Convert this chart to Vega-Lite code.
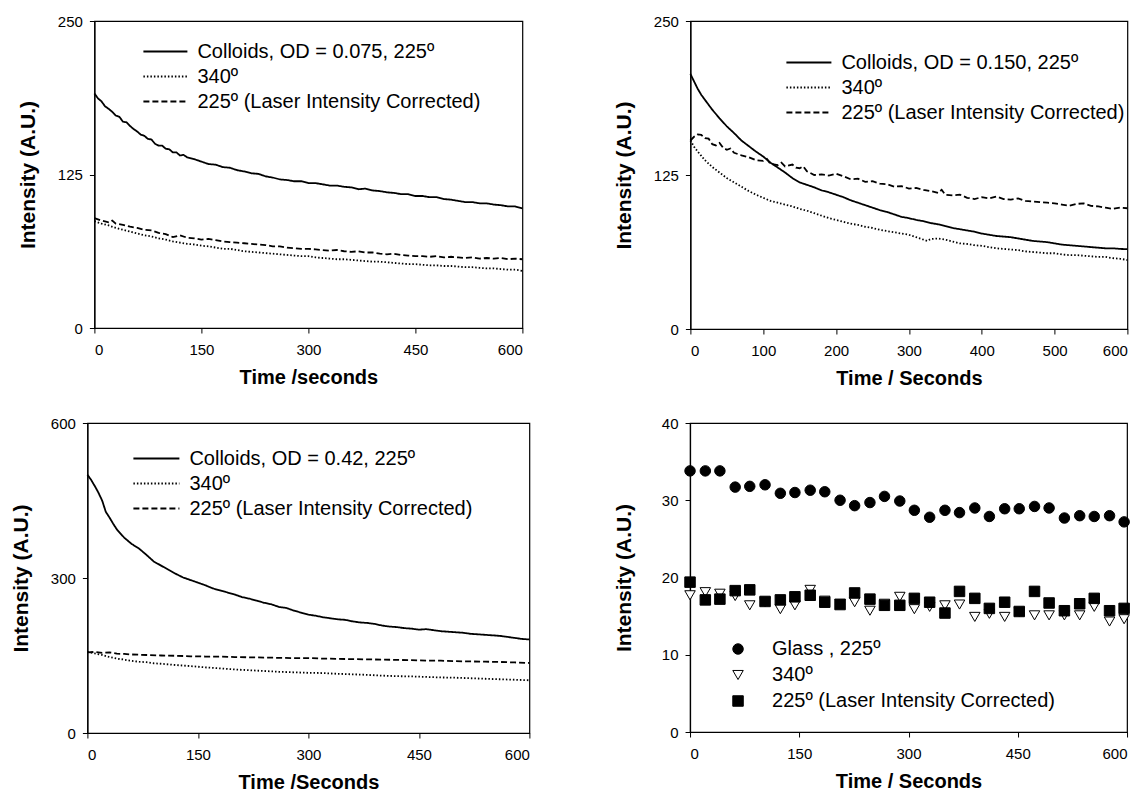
{
  "$schema": "https://vega.github.io/schema/vega-lite/v6.json",
  "background": "white",
  "padding": {"left": 9, "top": 13, "right": 5, "bottom": 5},
  "config": {
    "font": "Liberation Sans",
    "view": {"stroke": "black", "strokeWidth": 1.2},
    "axis": {
      "grid": false, "domainColor": "black", "domainWidth": 1.2, "tickColor": "black", "tickSize": 5,
      "labelColor": "black", "labelFont": "Liberation Sans", "labelFontSize": 15, "labelPadding": 7,
      "titleColor": "black", "titleFont": "Liberation Sans", "titleFontSize": 21, "titleFontWeight": "bold", "titlePadding": 12
    },
    "axisX": {"labelPadding": 9, "titlePadding": 10, "titleFontSize": 20},
    "axisY": {"titlePadding": 20, "minExtent": 36, "maxExtent": 36},
    "legend": {
      "orient": "none", "title": null, "padding": 0, "labelFont": "Liberation Sans", "labelFontSize": 20,
      "labelColor": "black", "rowPadding": 0, "labelLimit": 0
    },
    "line": {"color": "black", "strokeWidth": 1.8}
  },
  "datasets": {
    "p1": [
      {"s":"Colloids, OD = 0.075, 225º","t":0,"v":191},{"s":"Colloids, OD = 0.075, 225º","t":5,"v":187},{"s":"Colloids, OD = 0.075, 225º","t":10,"v":184.5},{"s":"Colloids, OD = 0.075, 225º","t":15,"v":180.5},{"s":"Colloids, OD = 0.075, 225º","t":20,"v":178.5},{"s":"Colloids, OD = 0.075, 225º","t":25,"v":176},{"s":"Colloids, OD = 0.075, 225º","t":30,"v":173},{"s":"Colloids, OD = 0.075, 225º","t":35,"v":172},{"s":"Colloids, OD = 0.075, 225º","t":40,"v":168},{"s":"Colloids, OD = 0.075, 225º","t":45,"v":167.5},{"s":"Colloids, OD = 0.075, 225º","t":50,"v":164.5},{"s":"Colloids, OD = 0.075, 225º","t":55,"v":162},{"s":"Colloids, OD = 0.075, 225º","t":60,"v":160},{"s":"Colloids, OD = 0.075, 225º","t":65,"v":157.5},{"s":"Colloids, OD = 0.075, 225º","t":70,"v":156.5},{"s":"Colloids, OD = 0.075, 225º","t":75,"v":154},{"s":"Colloids, OD = 0.075, 225º","t":80,"v":153.5},{"s":"Colloids, OD = 0.075, 225º","t":85,"v":150},{"s":"Colloids, OD = 0.075, 225º","t":90,"v":148.5},{"s":"Colloids, OD = 0.075, 225º","t":95,"v":148.5},{"s":"Colloids, OD = 0.075, 225º","t":100,"v":146},{"s":"Colloids, OD = 0.075, 225º","t":105,"v":145.5},{"s":"Colloids, OD = 0.075, 225º","t":110,"v":143},{"s":"Colloids, OD = 0.075, 225º","t":115,"v":143},{"s":"Colloids, OD = 0.075, 225º","t":120,"v":140.5},{"s":"Colloids, OD = 0.075, 225º","t":125,"v":141},{"s":"Colloids, OD = 0.075, 225º","t":130,"v":139},{"s":"Colloids, OD = 0.075, 225º","t":140,"v":137.5},{"s":"Colloids, OD = 0.075, 225º","t":150,"v":135.5},{"s":"Colloids, OD = 0.075, 225º","t":160,"v":133.5},{"s":"Colloids, OD = 0.075, 225º","t":170,"v":133},{"s":"Colloids, OD = 0.075, 225º","t":180,"v":131},{"s":"Colloids, OD = 0.075, 225º","t":190,"v":130.5},{"s":"Colloids, OD = 0.075, 225º","t":200,"v":128.5},{"s":"Colloids, OD = 0.075, 225º","t":210,"v":127.5},{"s":"Colloids, OD = 0.075, 225º","t":220,"v":126},{"s":"Colloids, OD = 0.075, 225º","t":230,"v":125.5},{"s":"Colloids, OD = 0.075, 225º","t":240,"v":123.5},{"s":"Colloids, OD = 0.075, 225º","t":250,"v":122.5},{"s":"Colloids, OD = 0.075, 225º","t":260,"v":121},{"s":"Colloids, OD = 0.075, 225º","t":270,"v":120.5},{"s":"Colloids, OD = 0.075, 225º","t":280,"v":119.5},{"s":"Colloids, OD = 0.075, 225º","t":290,"v":119.5},{"s":"Colloids, OD = 0.075, 225º","t":300,"v":118},{"s":"Colloids, OD = 0.075, 225º","t":310,"v":118},{"s":"Colloids, OD = 0.075, 225º","t":320,"v":117},{"s":"Colloids, OD = 0.075, 225º","t":330,"v":116},{"s":"Colloids, OD = 0.075, 225º","t":340,"v":116},{"s":"Colloids, OD = 0.075, 225º","t":350,"v":115},{"s":"Colloids, OD = 0.075, 225º","t":360,"v":114.5},{"s":"Colloids, OD = 0.075, 225º","t":370,"v":113},{"s":"Colloids, OD = 0.075, 225º","t":380,"v":113.5},{"s":"Colloids, OD = 0.075, 225º","t":390,"v":112},{"s":"Colloids, OD = 0.075, 225º","t":400,"v":111.5},{"s":"Colloids, OD = 0.075, 225º","t":410,"v":110.5},{"s":"Colloids, OD = 0.075, 225º","t":420,"v":110},{"s":"Colloids, OD = 0.075, 225º","t":430,"v":109},{"s":"Colloids, OD = 0.075, 225º","t":440,"v":109},{"s":"Colloids, OD = 0.075, 225º","t":450,"v":107.5},{"s":"Colloids, OD = 0.075, 225º","t":460,"v":107.5},{"s":"Colloids, OD = 0.075, 225º","t":470,"v":106.5},{"s":"Colloids, OD = 0.075, 225º","t":480,"v":106.5},{"s":"Colloids, OD = 0.075, 225º","t":490,"v":105},{"s":"Colloids, OD = 0.075, 225º","t":500,"v":104.5},{"s":"Colloids, OD = 0.075, 225º","t":510,"v":103.5},{"s":"Colloids, OD = 0.075, 225º","t":520,"v":102.5},{"s":"Colloids, OD = 0.075, 225º","t":530,"v":102.5},{"s":"Colloids, OD = 0.075, 225º","t":540,"v":101.5},{"s":"Colloids, OD = 0.075, 225º","t":550,"v":101.5},{"s":"Colloids, OD = 0.075, 225º","t":560,"v":100.5},{"s":"Colloids, OD = 0.075, 225º","t":570,"v":100},{"s":"Colloids, OD = 0.075, 225º","t":580,"v":99},{"s":"Colloids, OD = 0.075, 225º","t":590,"v":99},{"s":"Colloids, OD = 0.075, 225º","t":600,"v":97.5},
      {"s":"340º","t":0,"v":87},{"s":"340º","t":10,"v":85},{"s":"340º","t":20,"v":83.5},{"s":"340º","t":30,"v":81.5},{"s":"340º","t":40,"v":80},{"s":"340º","t":50,"v":78.5},{"s":"340º","t":60,"v":77},{"s":"340º","t":70,"v":75.5},{"s":"340º","t":80,"v":74.5},{"s":"340º","t":90,"v":73},{"s":"340º","t":100,"v":72},{"s":"340º","t":110,"v":70.5},{"s":"340º","t":120,"v":69.5},{"s":"340º","t":130,"v":68.5},{"s":"340º","t":140,"v":68},{"s":"340º","t":150,"v":67},{"s":"340º","t":160,"v":66.5},{"s":"340º","t":170,"v":65.5},{"s":"340º","t":180,"v":64.5},{"s":"340º","t":190,"v":64.5},{"s":"340º","t":200,"v":63.5},{"s":"340º","t":210,"v":62.5},{"s":"340º","t":220,"v":62},{"s":"340º","t":230,"v":61.5},{"s":"340º","t":240,"v":61},{"s":"340º","t":250,"v":60.5},{"s":"340º","t":260,"v":60},{"s":"340º","t":270,"v":59.5},{"s":"340º","t":280,"v":59},{"s":"340º","t":290,"v":58.5},{"s":"340º","t":300,"v":58.5},{"s":"340º","t":310,"v":57.5},{"s":"340º","t":320,"v":57},{"s":"340º","t":330,"v":56.5},{"s":"340º","t":340,"v":56},{"s":"340º","t":350,"v":56},{"s":"340º","t":360,"v":55.5},{"s":"340º","t":370,"v":55},{"s":"340º","t":380,"v":54.5},{"s":"340º","t":390,"v":54},{"s":"340º","t":400,"v":54},{"s":"340º","t":410,"v":53.5},{"s":"340º","t":420,"v":53},{"s":"340º","t":430,"v":52.5},{"s":"340º","t":440,"v":52},{"s":"340º","t":450,"v":52},{"s":"340º","t":460,"v":51.5},{"s":"340º","t":470,"v":51},{"s":"340º","t":480,"v":51},{"s":"340º","t":490,"v":50.5},{"s":"340º","t":500,"v":50.5},{"s":"340º","t":510,"v":50},{"s":"340º","t":520,"v":49.5},{"s":"340º","t":530,"v":49.5},{"s":"340º","t":540,"v":49},{"s":"340º","t":550,"v":48.5},{"s":"340º","t":560,"v":48.5},{"s":"340º","t":570,"v":48},{"s":"340º","t":580,"v":47.5},{"s":"340º","t":590,"v":47.5},{"s":"340º","t":600,"v":46.5},
      {"s":"225º (Laser Intensity Corrected)","t":0,"v":89.5},{"s":"225º (Laser Intensity Corrected)","t":10,"v":87.5},{"s":"225º (Laser Intensity Corrected)","t":20,"v":86},{"s":"225º (Laser Intensity Corrected)","t":25,"v":87.5},{"s":"225º (Laser Intensity Corrected)","t":30,"v":85},{"s":"225º (Laser Intensity Corrected)","t":40,"v":84},{"s":"225º (Laser Intensity Corrected)","t":50,"v":82.5},{"s":"225º (Laser Intensity Corrected)","t":60,"v":81.5},{"s":"225º (Laser Intensity Corrected)","t":70,"v":80},{"s":"225º (Laser Intensity Corrected)","t":80,"v":79.5},{"s":"225º (Laser Intensity Corrected)","t":90,"v":77.5},{"s":"225º (Laser Intensity Corrected)","t":100,"v":76.5},{"s":"225º (Laser Intensity Corrected)","t":110,"v":74},{"s":"225º (Laser Intensity Corrected)","t":120,"v":75.5},{"s":"225º (Laser Intensity Corrected)","t":130,"v":73.5},{"s":"225º (Laser Intensity Corrected)","t":140,"v":73},{"s":"225º (Laser Intensity Corrected)","t":150,"v":72},{"s":"225º (Laser Intensity Corrected)","t":160,"v":72.5},{"s":"225º (Laser Intensity Corrected)","t":170,"v":71.5},{"s":"225º (Laser Intensity Corrected)","t":180,"v":70.5},{"s":"225º (Laser Intensity Corrected)","t":190,"v":70},{"s":"225º (Laser Intensity Corrected)","t":200,"v":69.5},{"s":"225º (Laser Intensity Corrected)","t":210,"v":69},{"s":"225º (Laser Intensity Corrected)","t":220,"v":68.5},{"s":"225º (Laser Intensity Corrected)","t":230,"v":68},{"s":"225º (Laser Intensity Corrected)","t":240,"v":67.5},{"s":"225º (Laser Intensity Corrected)","t":250,"v":66.5},{"s":"225º (Laser Intensity Corrected)","t":260,"v":66.5},{"s":"225º (Laser Intensity Corrected)","t":270,"v":65.5},{"s":"225º (Laser Intensity Corrected)","t":280,"v":65},{"s":"225º (Laser Intensity Corrected)","t":290,"v":64.5},{"s":"225º (Laser Intensity Corrected)","t":300,"v":64.5},{"s":"225º (Laser Intensity Corrected)","t":310,"v":64},{"s":"225º (Laser Intensity Corrected)","t":320,"v":63.5},{"s":"225º (Laser Intensity Corrected)","t":330,"v":63},{"s":"225º (Laser Intensity Corrected)","t":340,"v":63.5},{"s":"225º (Laser Intensity Corrected)","t":350,"v":62.5},{"s":"225º (Laser Intensity Corrected)","t":360,"v":62},{"s":"225º (Laser Intensity Corrected)","t":370,"v":62.5},{"s":"225º (Laser Intensity Corrected)","t":380,"v":61.5},{"s":"225º (Laser Intensity Corrected)","t":390,"v":61.5},{"s":"225º (Laser Intensity Corrected)","t":400,"v":60.5},{"s":"225º (Laser Intensity Corrected)","t":410,"v":60},{"s":"225º (Laser Intensity Corrected)","t":420,"v":60.5},{"s":"225º (Laser Intensity Corrected)","t":430,"v":59.5},{"s":"225º (Laser Intensity Corrected)","t":440,"v":59},{"s":"225º (Laser Intensity Corrected)","t":450,"v":58.5},{"s":"225º (Laser Intensity Corrected)","t":460,"v":58.5},{"s":"225º (Laser Intensity Corrected)","t":470,"v":58},{"s":"225º (Laser Intensity Corrected)","t":480,"v":58.5},{"s":"225º (Laser Intensity Corrected)","t":490,"v":57.5},{"s":"225º (Laser Intensity Corrected)","t":500,"v":58},{"s":"225º (Laser Intensity Corrected)","t":510,"v":57.5},{"s":"225º (Laser Intensity Corrected)","t":520,"v":57},{"s":"225º (Laser Intensity Corrected)","t":530,"v":57.5},{"s":"225º (Laser Intensity Corrected)","t":540,"v":56.5},{"s":"225º (Laser Intensity Corrected)","t":550,"v":57},{"s":"225º (Laser Intensity Corrected)","t":560,"v":56.5},{"s":"225º (Laser Intensity Corrected)","t":570,"v":57},{"s":"225º (Laser Intensity Corrected)","t":580,"v":56},{"s":"225º (Laser Intensity Corrected)","t":590,"v":56.5},{"s":"225º (Laser Intensity Corrected)","t":600,"v":56}
    ],
    "p2": [
      {"s":"Colloids, OD = 0.150, 225º","t":0,"v":207},{"s":"Colloids, OD = 0.150, 225º","t":5,"v":201},{"s":"Colloids, OD = 0.150, 225º","t":10,"v":195},{"s":"Colloids, OD = 0.150, 225º","t":15,"v":190},{"s":"Colloids, OD = 0.150, 225º","t":20,"v":186},{"s":"Colloids, OD = 0.150, 225º","t":25,"v":182},{"s":"Colloids, OD = 0.150, 225º","t":30,"v":178},{"s":"Colloids, OD = 0.150, 225º","t":40,"v":171},{"s":"Colloids, OD = 0.150, 225º","t":50,"v":164.5},{"s":"Colloids, OD = 0.150, 225º","t":60,"v":159},{"s":"Colloids, OD = 0.150, 225º","t":70,"v":153},{"s":"Colloids, OD = 0.150, 225º","t":80,"v":148.5},{"s":"Colloids, OD = 0.150, 225º","t":90,"v":144},{"s":"Colloids, OD = 0.150, 225º","t":100,"v":140},{"s":"Colloids, OD = 0.150, 225º","t":110,"v":135},{"s":"Colloids, OD = 0.150, 225º","t":120,"v":131},{"s":"Colloids, OD = 0.150, 225º","t":130,"v":127},{"s":"Colloids, OD = 0.150, 225º","t":140,"v":122.5},{"s":"Colloids, OD = 0.150, 225º","t":150,"v":119},{"s":"Colloids, OD = 0.150, 225º","t":160,"v":117},{"s":"Colloids, OD = 0.150, 225º","t":170,"v":115},{"s":"Colloids, OD = 0.150, 225º","t":180,"v":112.5},{"s":"Colloids, OD = 0.150, 225º","t":190,"v":111},{"s":"Colloids, OD = 0.150, 225º","t":200,"v":109},{"s":"Colloids, OD = 0.150, 225º","t":210,"v":107},{"s":"Colloids, OD = 0.150, 225º","t":220,"v":104.5},{"s":"Colloids, OD = 0.150, 225º","t":230,"v":102.5},{"s":"Colloids, OD = 0.150, 225º","t":240,"v":100.5},{"s":"Colloids, OD = 0.150, 225º","t":250,"v":98.5},{"s":"Colloids, OD = 0.150, 225º","t":260,"v":96.5},{"s":"Colloids, OD = 0.150, 225º","t":270,"v":95},{"s":"Colloids, OD = 0.150, 225º","t":280,"v":93},{"s":"Colloids, OD = 0.150, 225º","t":290,"v":91},{"s":"Colloids, OD = 0.150, 225º","t":300,"v":90},{"s":"Colloids, OD = 0.150, 225º","t":310,"v":88.5},{"s":"Colloids, OD = 0.150, 225º","t":320,"v":87.5},{"s":"Colloids, OD = 0.150, 225º","t":330,"v":86},{"s":"Colloids, OD = 0.150, 225º","t":340,"v":85},{"s":"Colloids, OD = 0.150, 225º","t":350,"v":83.5},{"s":"Colloids, OD = 0.150, 225º","t":360,"v":82},{"s":"Colloids, OD = 0.150, 225º","t":370,"v":81},{"s":"Colloids, OD = 0.150, 225º","t":380,"v":80},{"s":"Colloids, OD = 0.150, 225º","t":390,"v":79},{"s":"Colloids, OD = 0.150, 225º","t":400,"v":77.5},{"s":"Colloids, OD = 0.150, 225º","t":410,"v":76.5},{"s":"Colloids, OD = 0.150, 225º","t":420,"v":75.5},{"s":"Colloids, OD = 0.150, 225º","t":430,"v":75},{"s":"Colloids, OD = 0.150, 225º","t":440,"v":74.5},{"s":"Colloids, OD = 0.150, 225º","t":450,"v":73.5},{"s":"Colloids, OD = 0.150, 225º","t":460,"v":72.5},{"s":"Colloids, OD = 0.150, 225º","t":470,"v":71.5},{"s":"Colloids, OD = 0.150, 225º","t":480,"v":71},{"s":"Colloids, OD = 0.150, 225º","t":490,"v":70.5},{"s":"Colloids, OD = 0.150, 225º","t":500,"v":69.5},{"s":"Colloids, OD = 0.150, 225º","t":510,"v":68.5},{"s":"Colloids, OD = 0.150, 225º","t":520,"v":68},{"s":"Colloids, OD = 0.150, 225º","t":530,"v":67.5},{"s":"Colloids, OD = 0.150, 225º","t":540,"v":67},{"s":"Colloids, OD = 0.150, 225º","t":550,"v":66.5},{"s":"Colloids, OD = 0.150, 225º","t":560,"v":66},{"s":"Colloids, OD = 0.150, 225º","t":570,"v":65.5},{"s":"Colloids, OD = 0.150, 225º","t":580,"v":65.5},{"s":"Colloids, OD = 0.150, 225º","t":590,"v":65},{"s":"Colloids, OD = 0.150, 225º","t":600,"v":64.8},
      {"s":"340º","t":0,"v":153},{"s":"340º","t":5,"v":148},{"s":"340º","t":10,"v":144},{"s":"340º","t":15,"v":140.5},{"s":"340º","t":20,"v":137},{"s":"340º","t":30,"v":131.5},{"s":"340º","t":40,"v":127},{"s":"340º","t":50,"v":122.5},{"s":"340º","t":60,"v":119},{"s":"340º","t":70,"v":115.5},{"s":"340º","t":80,"v":112},{"s":"340º","t":90,"v":109},{"s":"340º","t":100,"v":106.5},{"s":"340º","t":110,"v":104},{"s":"340º","t":120,"v":102.5},{"s":"340º","t":130,"v":101},{"s":"340º","t":140,"v":99.5},{"s":"340º","t":150,"v":97.5},{"s":"340º","t":160,"v":96},{"s":"340º","t":170,"v":94},{"s":"340º","t":180,"v":92},{"s":"340º","t":190,"v":90},{"s":"340º","t":200,"v":88.5},{"s":"340º","t":210,"v":87},{"s":"340º","t":220,"v":85.5},{"s":"340º","t":230,"v":84.5},{"s":"340º","t":240,"v":83},{"s":"340º","t":250,"v":82},{"s":"340º","t":260,"v":80.5},{"s":"340º","t":270,"v":79.5},{"s":"340º","t":280,"v":78.5},{"s":"340º","t":290,"v":77.5},{"s":"340º","t":300,"v":76.5},{"s":"340º","t":310,"v":74.5},{"s":"340º","t":320,"v":72.5},{"s":"340º","t":325,"v":71.5},{"s":"340º","t":330,"v":73},{"s":"340º","t":340,"v":73.5},{"s":"340º","t":350,"v":72.5},{"s":"340º","t":360,"v":71},{"s":"340º","t":370,"v":69.5},{"s":"340º","t":380,"v":69},{"s":"340º","t":390,"v":68},{"s":"340º","t":400,"v":67.5},{"s":"340º","t":410,"v":66.5},{"s":"340º","t":420,"v":65.5},{"s":"340º","t":430,"v":65},{"s":"340º","t":440,"v":64.5},{"s":"340º","t":450,"v":64},{"s":"340º","t":460,"v":63},{"s":"340º","t":470,"v":62.5},{"s":"340º","t":480,"v":62},{"s":"340º","t":490,"v":61.5},{"s":"340º","t":500,"v":61.5},{"s":"340º","t":510,"v":60.5},{"s":"340º","t":520,"v":60},{"s":"340º","t":530,"v":60},{"s":"340º","t":540,"v":59.5},{"s":"340º","t":550,"v":59},{"s":"340º","t":560,"v":58.5},{"s":"340º","t":570,"v":58.5},{"s":"340º","t":580,"v":57.5},{"s":"340º","t":590,"v":57},{"s":"340º","t":600,"v":56},
      {"s":"225º (Laser Intensity Corrected)","t":0,"v":153},{"s":"225º (Laser Intensity Corrected)","t":5,"v":156},{"s":"225º (Laser Intensity Corrected)","t":10,"v":158},{"s":"225º (Laser Intensity Corrected)","t":15,"v":157.5},{"s":"225º (Laser Intensity Corrected)","t":20,"v":155},{"s":"225º (Laser Intensity Corrected)","t":25,"v":154.5},{"s":"225º (Laser Intensity Corrected)","t":30,"v":150},{"s":"225º (Laser Intensity Corrected)","t":35,"v":149},{"s":"225º (Laser Intensity Corrected)","t":40,"v":151},{"s":"225º (Laser Intensity Corrected)","t":45,"v":147},{"s":"225º (Laser Intensity Corrected)","t":50,"v":145.5},{"s":"225º (Laser Intensity Corrected)","t":55,"v":146.5},{"s":"225º (Laser Intensity Corrected)","t":60,"v":143},{"s":"225º (Laser Intensity Corrected)","t":70,"v":141},{"s":"225º (Laser Intensity Corrected)","t":80,"v":139.5},{"s":"225º (Laser Intensity Corrected)","t":90,"v":137},{"s":"225º (Laser Intensity Corrected)","t":100,"v":136.5},{"s":"225º (Laser Intensity Corrected)","t":105,"v":138},{"s":"225º (Laser Intensity Corrected)","t":110,"v":134},{"s":"225º (Laser Intensity Corrected)","t":120,"v":133},{"s":"225º (Laser Intensity Corrected)","t":125,"v":135},{"s":"225º (Laser Intensity Corrected)","t":130,"v":132},{"s":"225º (Laser Intensity Corrected)","t":140,"v":133.5},{"s":"225º (Laser Intensity Corrected)","t":145,"v":131},{"s":"225º (Laser Intensity Corrected)","t":150,"v":130.5},{"s":"225º (Laser Intensity Corrected)","t":155,"v":132},{"s":"225º (Laser Intensity Corrected)","t":160,"v":128},{"s":"225º (Laser Intensity Corrected)","t":170,"v":125},{"s":"225º (Laser Intensity Corrected)","t":180,"v":125.5},{"s":"225º (Laser Intensity Corrected)","t":190,"v":124.5},{"s":"225º (Laser Intensity Corrected)","t":200,"v":126},{"s":"225º (Laser Intensity Corrected)","t":210,"v":124},{"s":"225º (Laser Intensity Corrected)","t":220,"v":121.5},{"s":"225º (Laser Intensity Corrected)","t":230,"v":122},{"s":"225º (Laser Intensity Corrected)","t":240,"v":119.5},{"s":"225º (Laser Intensity Corrected)","t":250,"v":120},{"s":"225º (Laser Intensity Corrected)","t":260,"v":118},{"s":"225º (Laser Intensity Corrected)","t":270,"v":117.5},{"s":"225º (Laser Intensity Corrected)","t":280,"v":115.5},{"s":"225º (Laser Intensity Corrected)","t":290,"v":116},{"s":"225º (Laser Intensity Corrected)","t":300,"v":114},{"s":"225º (Laser Intensity Corrected)","t":310,"v":114.5},{"s":"225º (Laser Intensity Corrected)","t":320,"v":113},{"s":"225º (Laser Intensity Corrected)","t":330,"v":112},{"s":"225º (Laser Intensity Corrected)","t":340,"v":110.5},{"s":"225º (Laser Intensity Corrected)","t":345,"v":113},{"s":"225º (Laser Intensity Corrected)","t":350,"v":109},{"s":"225º (Laser Intensity Corrected)","t":360,"v":108.5},{"s":"225º (Laser Intensity Corrected)","t":370,"v":109},{"s":"225º (Laser Intensity Corrected)","t":380,"v":106.5},{"s":"225º (Laser Intensity Corrected)","t":390,"v":105.5},{"s":"225º (Laser Intensity Corrected)","t":400,"v":107},{"s":"225º (Laser Intensity Corrected)","t":410,"v":106},{"s":"225º (Laser Intensity Corrected)","t":420,"v":107.5},{"s":"225º (Laser Intensity Corrected)","t":430,"v":105.5},{"s":"225º (Laser Intensity Corrected)","t":440,"v":105},{"s":"225º (Laser Intensity Corrected)","t":450,"v":106},{"s":"225º (Laser Intensity Corrected)","t":460,"v":104},{"s":"225º (Laser Intensity Corrected)","t":470,"v":103.5},{"s":"225º (Laser Intensity Corrected)","t":480,"v":103},{"s":"225º (Laser Intensity Corrected)","t":490,"v":102.5},{"s":"225º (Laser Intensity Corrected)","t":500,"v":102},{"s":"225º (Laser Intensity Corrected)","t":510,"v":101},{"s":"225º (Laser Intensity Corrected)","t":520,"v":100},{"s":"225º (Laser Intensity Corrected)","t":530,"v":101.5},{"s":"225º (Laser Intensity Corrected)","t":540,"v":102},{"s":"225º (Laser Intensity Corrected)","t":550,"v":100},{"s":"225º (Laser Intensity Corrected)","t":560,"v":99.5},{"s":"225º (Laser Intensity Corrected)","t":570,"v":98.5},{"s":"225º (Laser Intensity Corrected)","t":580,"v":97.5},{"s":"225º (Laser Intensity Corrected)","t":590,"v":98.5},{"s":"225º (Laser Intensity Corrected)","t":600,"v":98}
    ],
    "p3": [
      {"s":"Colloids, OD = 0.42, 225º","t":0,"v":500},{"s":"Colloids, OD = 0.42, 225º","t":5,"v":490},{"s":"Colloids, OD = 0.42, 225º","t":10,"v":478},{"s":"Colloids, OD = 0.42, 225º","t":15,"v":465},{"s":"Colloids, OD = 0.42, 225º","t":20,"v":450},{"s":"Colloids, OD = 0.42, 225º","t":25,"v":428},{"s":"Colloids, OD = 0.42, 225º","t":30,"v":417},{"s":"Colloids, OD = 0.42, 225º","t":35,"v":405},{"s":"Colloids, OD = 0.42, 225º","t":40,"v":394},{"s":"Colloids, OD = 0.42, 225º","t":45,"v":386},{"s":"Colloids, OD = 0.42, 225º","t":50,"v":378},{"s":"Colloids, OD = 0.42, 225º","t":55,"v":372},{"s":"Colloids, OD = 0.42, 225º","t":60,"v":366},{"s":"Colloids, OD = 0.42, 225º","t":70,"v":357},{"s":"Colloids, OD = 0.42, 225º","t":80,"v":345},{"s":"Colloids, OD = 0.42, 225º","t":90,"v":332},{"s":"Colloids, OD = 0.42, 225º","t":100,"v":324},{"s":"Colloids, OD = 0.42, 225º","t":110,"v":316},{"s":"Colloids, OD = 0.42, 225º","t":120,"v":308},{"s":"Colloids, OD = 0.42, 225º","t":130,"v":301},{"s":"Colloids, OD = 0.42, 225º","t":140,"v":296},{"s":"Colloids, OD = 0.42, 225º","t":150,"v":291},{"s":"Colloids, OD = 0.42, 225º","t":160,"v":286},{"s":"Colloids, OD = 0.42, 225º","t":170,"v":280},{"s":"Colloids, OD = 0.42, 225º","t":180,"v":276},{"s":"Colloids, OD = 0.42, 225º","t":190,"v":272},{"s":"Colloids, OD = 0.42, 225º","t":200,"v":268},{"s":"Colloids, OD = 0.42, 225º","t":210,"v":263},{"s":"Colloids, OD = 0.42, 225º","t":220,"v":260},{"s":"Colloids, OD = 0.42, 225º","t":230,"v":256},{"s":"Colloids, OD = 0.42, 225º","t":240,"v":252},{"s":"Colloids, OD = 0.42, 225º","t":250,"v":249},{"s":"Colloids, OD = 0.42, 225º","t":260,"v":244},{"s":"Colloids, OD = 0.42, 225º","t":270,"v":242},{"s":"Colloids, OD = 0.42, 225º","t":280,"v":237},{"s":"Colloids, OD = 0.42, 225º","t":290,"v":233},{"s":"Colloids, OD = 0.42, 225º","t":300,"v":229},{"s":"Colloids, OD = 0.42, 225º","t":310,"v":227},{"s":"Colloids, OD = 0.42, 225º","t":320,"v":224},{"s":"Colloids, OD = 0.42, 225º","t":330,"v":222},{"s":"Colloids, OD = 0.42, 225º","t":340,"v":220},{"s":"Colloids, OD = 0.42, 225º","t":350,"v":219},{"s":"Colloids, OD = 0.42, 225º","t":360,"v":216},{"s":"Colloids, OD = 0.42, 225º","t":370,"v":214},{"s":"Colloids, OD = 0.42, 225º","t":380,"v":213},{"s":"Colloids, OD = 0.42, 225º","t":390,"v":211},{"s":"Colloids, OD = 0.42, 225º","t":400,"v":208},{"s":"Colloids, OD = 0.42, 225º","t":410,"v":206},{"s":"Colloids, OD = 0.42, 225º","t":420,"v":205},{"s":"Colloids, OD = 0.42, 225º","t":430,"v":203},{"s":"Colloids, OD = 0.42, 225º","t":440,"v":202},{"s":"Colloids, OD = 0.42, 225º","t":450,"v":200},{"s":"Colloids, OD = 0.42, 225º","t":460,"v":201},{"s":"Colloids, OD = 0.42, 225º","t":470,"v":199},{"s":"Colloids, OD = 0.42, 225º","t":480,"v":197},{"s":"Colloids, OD = 0.42, 225º","t":490,"v":196},{"s":"Colloids, OD = 0.42, 225º","t":500,"v":195},{"s":"Colloids, OD = 0.42, 225º","t":510,"v":194},{"s":"Colloids, OD = 0.42, 225º","t":520,"v":192},{"s":"Colloids, OD = 0.42, 225º","t":530,"v":191},{"s":"Colloids, OD = 0.42, 225º","t":540,"v":190},{"s":"Colloids, OD = 0.42, 225º","t":550,"v":189},{"s":"Colloids, OD = 0.42, 225º","t":560,"v":188},{"s":"Colloids, OD = 0.42, 225º","t":570,"v":186},{"s":"Colloids, OD = 0.42, 225º","t":580,"v":184},{"s":"Colloids, OD = 0.42, 225º","t":590,"v":182},{"s":"Colloids, OD = 0.42, 225º","t":600,"v":181},
      {"s":"340º","t":0,"v":157},{"s":"340º","t":10,"v":154},{"s":"340º","t":20,"v":151},{"s":"340º","t":30,"v":147},{"s":"340º","t":40,"v":144},{"s":"340º","t":50,"v":142},{"s":"340º","t":60,"v":139.5},{"s":"340º","t":70,"v":138},{"s":"340º","t":80,"v":137},{"s":"340º","t":90,"v":135},{"s":"340º","t":100,"v":134},{"s":"340º","t":120,"v":131.5},{"s":"340º","t":140,"v":129.5},{"s":"340º","t":160,"v":127},{"s":"340º","t":180,"v":125},{"s":"340º","t":200,"v":123},{"s":"340º","t":220,"v":121.5},{"s":"340º","t":240,"v":120},{"s":"340º","t":260,"v":118.5},{"s":"340º","t":280,"v":117.5},{"s":"340º","t":300,"v":116.5},{"s":"340º","t":320,"v":116},{"s":"340º","t":340,"v":114.5},{"s":"340º","t":360,"v":113.5},{"s":"340º","t":380,"v":112.5},{"s":"340º","t":400,"v":111},{"s":"340º","t":420,"v":110},{"s":"340º","t":440,"v":109.5},{"s":"340º","t":460,"v":108.5},{"s":"340º","t":480,"v":107.5},{"s":"340º","t":500,"v":107},{"s":"340º","t":520,"v":106},{"s":"340º","t":540,"v":105},{"s":"340º","t":560,"v":104},{"s":"340º","t":580,"v":103},{"s":"340º","t":600,"v":102},
      {"s":"225º (Laser Intensity Corrected)","t":0,"v":156},{"s":"225º (Laser Intensity Corrected)","t":10,"v":157},{"s":"225º (Laser Intensity Corrected)","t":20,"v":155},{"s":"225º (Laser Intensity Corrected)","t":30,"v":156},{"s":"225º (Laser Intensity Corrected)","t":40,"v":153.5},{"s":"225º (Laser Intensity Corrected)","t":50,"v":153},{"s":"225º (Laser Intensity Corrected)","t":60,"v":152},{"s":"225º (Laser Intensity Corrected)","t":80,"v":151},{"s":"225º (Laser Intensity Corrected)","t":100,"v":150},{"s":"225º (Laser Intensity Corrected)","t":120,"v":149.5},{"s":"225º (Laser Intensity Corrected)","t":140,"v":148.5},{"s":"225º (Laser Intensity Corrected)","t":160,"v":148},{"s":"225º (Laser Intensity Corrected)","t":180,"v":148},{"s":"225º (Laser Intensity Corrected)","t":200,"v":147},{"s":"225º (Laser Intensity Corrected)","t":220,"v":146.5},{"s":"225º (Laser Intensity Corrected)","t":240,"v":146},{"s":"225º (Laser Intensity Corrected)","t":260,"v":145.5},{"s":"225º (Laser Intensity Corrected)","t":280,"v":145},{"s":"225º (Laser Intensity Corrected)","t":300,"v":145},{"s":"225º (Laser Intensity Corrected)","t":320,"v":144},{"s":"225º (Laser Intensity Corrected)","t":340,"v":143.5},{"s":"225º (Laser Intensity Corrected)","t":360,"v":143},{"s":"225º (Laser Intensity Corrected)","t":380,"v":142.5},{"s":"225º (Laser Intensity Corrected)","t":400,"v":142},{"s":"225º (Laser Intensity Corrected)","t":420,"v":141.5},{"s":"225º (Laser Intensity Corrected)","t":440,"v":141},{"s":"225º (Laser Intensity Corrected)","t":460,"v":140},{"s":"225º (Laser Intensity Corrected)","t":480,"v":140},{"s":"225º (Laser Intensity Corrected)","t":500,"v":139},{"s":"225º (Laser Intensity Corrected)","t":520,"v":138.5},{"s":"225º (Laser Intensity Corrected)","t":540,"v":138},{"s":"225º (Laser Intensity Corrected)","t":560,"v":137.5},{"s":"225º (Laser Intensity Corrected)","t":580,"v":136.5},{"s":"225º (Laser Intensity Corrected)","t":600,"v":135.5}
    ],
    "p4": [
      {"s":"Glass , 225º","t":0,"v":33.8},{"s":"Glass , 225º","t":21,"v":33.8},{"s":"Glass , 225º","t":41,"v":33.8},{"s":"Glass , 225º","t":62,"v":31.7},{"s":"Glass , 225º","t":82,"v":31.8},{"s":"Glass , 225º","t":103,"v":32.0},{"s":"Glass , 225º","t":124,"v":30.9},{"s":"Glass , 225º","t":144,"v":31.0},{"s":"Glass , 225º","t":165,"v":31.3},{"s":"Glass , 225º","t":185,"v":31.1},{"s":"Glass , 225º","t":206,"v":30.0},{"s":"Glass , 225º","t":226,"v":29.3},{"s":"Glass , 225º","t":247,"v":29.7},{"s":"Glass , 225º","t":267,"v":30.5},{"s":"Glass , 225º","t":288,"v":29.9},{"s":"Glass , 225º","t":308,"v":28.7},{"s":"Glass , 225º","t":329,"v":27.8},{"s":"Glass , 225º","t":350,"v":28.7},{"s":"Glass , 225º","t":370,"v":28.4},{"s":"Glass , 225º","t":391,"v":29.0},{"s":"Glass , 225º","t":411,"v":27.9},{"s":"Glass , 225º","t":432,"v":28.9},{"s":"Glass , 225º","t":452,"v":28.9},{"s":"Glass , 225º","t":473,"v":29.2},{"s":"Glass , 225º","t":493,"v":29.0},{"s":"Glass , 225º","t":514,"v":27.7},{"s":"Glass , 225º","t":535,"v":28.0},{"s":"Glass , 225º","t":555,"v":27.9},{"s":"Glass , 225º","t":576,"v":28.0},{"s":"Glass , 225º","t":596,"v":27.2},
      {"s":"340º","t":0,"v":17.7},{"s":"340º","t":21,"v":18.1},{"s":"340º","t":41,"v":17.9},{"s":"340º","t":62,"v":17.6},{"s":"340º","t":82,"v":16.4},{"s":"340º","t":103,"v":16.8},{"s":"340º","t":124,"v":15.9},{"s":"340º","t":144,"v":16.4},{"s":"340º","t":165,"v":18.4},{"s":"340º","t":185,"v":17.0},{"s":"340º","t":206,"v":16.6},{"s":"340º","t":226,"v":16.8},{"s":"340º","t":247,"v":15.7},{"s":"340º","t":267,"v":16.6},{"s":"340º","t":288,"v":17.5},{"s":"340º","t":308,"v":15.9},{"s":"340º","t":329,"v":16.2},{"s":"340º","t":350,"v":16.4},{"s":"340º","t":370,"v":16.5},{"s":"340º","t":391,"v":14.9},{"s":"340º","t":411,"v":15.3},{"s":"340º","t":432,"v":14.9},{"s":"340º","t":452,"v":15.5},{"s":"340º","t":473,"v":15.1},{"s":"340º","t":493,"v":15.1},{"s":"340º","t":514,"v":15.1},{"s":"340º","t":535,"v":15.1},{"s":"340º","t":555,"v":16.2},{"s":"340º","t":576,"v":14.3},{"s":"340º","t":596,"v":14.6},
      {"s":"225º (Laser Intensity Corrected)","t":0,"v":19.4},{"s":"225º (Laser Intensity Corrected)","t":21,"v":17.1},{"s":"225º (Laser Intensity Corrected)","t":41,"v":17.2},{"s":"225º (Laser Intensity Corrected)","t":62,"v":18.3},{"s":"225º (Laser Intensity Corrected)","t":82,"v":18.4},{"s":"225º (Laser Intensity Corrected)","t":103,"v":16.9},{"s":"225º (Laser Intensity Corrected)","t":124,"v":17.1},{"s":"225º (Laser Intensity Corrected)","t":144,"v":17.5},{"s":"225º (Laser Intensity Corrected)","t":165,"v":17.7},{"s":"225º (Laser Intensity Corrected)","t":185,"v":16.8},{"s":"225º (Laser Intensity Corrected)","t":206,"v":16.5},{"s":"225º (Laser Intensity Corrected)","t":226,"v":18.0},{"s":"225º (Laser Intensity Corrected)","t":247,"v":17.2},{"s":"225º (Laser Intensity Corrected)","t":267,"v":16.4},{"s":"225º (Laser Intensity Corrected)","t":288,"v":16.4},{"s":"225º (Laser Intensity Corrected)","t":308,"v":17.3},{"s":"225º (Laser Intensity Corrected)","t":329,"v":16.8},{"s":"225º (Laser Intensity Corrected)","t":350,"v":15.4},{"s":"225º (Laser Intensity Corrected)","t":370,"v":18.2},{"s":"225º (Laser Intensity Corrected)","t":391,"v":17.3},{"s":"225º (Laser Intensity Corrected)","t":411,"v":16.0},{"s":"225º (Laser Intensity Corrected)","t":432,"v":16.8},{"s":"225º (Laser Intensity Corrected)","t":452,"v":15.6},{"s":"225º (Laser Intensity Corrected)","t":473,"v":18.2},{"s":"225º (Laser Intensity Corrected)","t":493,"v":16.7},{"s":"225º (Laser Intensity Corrected)","t":514,"v":15.7},{"s":"225º (Laser Intensity Corrected)","t":535,"v":16.6},{"s":"225º (Laser Intensity Corrected)","t":555,"v":17.3},{"s":"225º (Laser Intensity Corrected)","t":576,"v":15.7},{"s":"225º (Laser Intensity Corrected)","t":596,"v":16.0}
    ]
  },
  "spacing": 78,
  "resolve": {"scale": {"strokeDash": "independent", "shape": "independent", "fill": "independent", "stroke": "independent"}, "legend": {"strokeDash": "independent", "shape": "independent", "fill": "independent", "stroke": "independent"}},
  "hconcat": [
    {
      "spacing": 27,
      "center": true,
      "resolve": {"scale": {"strokeDash": "independent"}, "legend": {"strokeDash": "independent"}},
      "vconcat": [
        {
          "width": 428, "height": 307,
          "data": {"name": "p1"},
          "mark": {"type": "line"},
          "encoding": {
            "x": {"field": "t", "type": "quantitative", "scale": {"domain": [0, 600], "nice": false}, "axis": {"values": [0, 150, 300, 450, 600], "title": "Time /seconds"}},
            "y": {"field": "v", "type": "quantitative", "scale": {"domain": [0, 250], "nice": false}, "axis": {"values": [0, 125, 250], "title": "Intensity (A.U.)"}},
            "strokeDash": {"field": "s", "type": "nominal",
              "scale": {"domain": ["Colloids, OD = 0.075, 225º", "340º", "225º (Laser Intensity Corrected)"], "range": [[1, 0], [1.5, 2], [6, 3]]},
              "legend": {"legendX": 48, "legendY": 18, "symbolType": "stroke", "symbolSize": 1936, "symbolStrokeColor": "black", "symbolStrokeWidth": 1.8, "clipHeight": 25, "labelOffset": 9}}
          }
        },
        {
          "width": 442, "height": 310,
          "data": {"name": "p3"},
          "mark": {"type": "line"},
          "encoding": {
            "x": {"field": "t", "type": "quantitative", "scale": {"domain": [0, 600], "nice": false}, "axis": {"values": [0, 150, 300, 450, 600], "title": "Time /Seconds"}},
            "y": {"field": "v", "type": "quantitative", "scale": {"domain": [0, 600], "nice": false}, "axis": {"values": [0, 300, 600], "title": "Intensity (A.U.)"}},
            "strokeDash": {"field": "s", "type": "nominal",
              "scale": {"domain": ["Colloids, OD = 0.42, 225º", "340º", "225º (Laser Intensity Corrected)"], "range": [[1, 0], [1.5, 2], [6, 3]]},
              "legend": {"legendX": 45, "legendY": 23, "symbolType": "stroke", "symbolSize": 2116, "symbolStrokeColor": "black", "symbolStrokeWidth": 1.8, "clipHeight": 25, "labelOffset": 9}}
          }
        }
      ]
    },
    {
      "spacing": 26,
      "center": true,
      "resolve": {"scale": {"strokeDash": "independent", "shape": "independent", "fill": "independent", "stroke": "independent"}, "legend": {"strokeDash": "independent", "shape": "independent", "fill": "independent", "stroke": "independent"}},
      "vconcat": [
        {
          "width": 437, "height": 308,
          "data": {"name": "p2"},
          "mark": {"type": "line"},
          "encoding": {
            "x": {"field": "t", "type": "quantitative", "scale": {"domain": [0, 600], "nice": false}, "axis": {"values": [0, 100, 200, 300, 400, 500, 600], "title": "Time / Seconds"}},
            "y": {"field": "v", "type": "quantitative", "scale": {"domain": [0, 250], "nice": false}, "axis": {"values": [0, 125, 250], "title": "Intensity (A.U.)"}},
            "strokeDash": {"field": "s", "type": "nominal",
              "scale": {"domain": ["Colloids, OD = 0.150, 225º", "340º", "225º (Laser Intensity Corrected)"], "range": [[1, 0], [1.5, 2], [6, 3]]},
              "legend": {"legendX": 95, "legendY": 29, "symbolType": "stroke", "symbolSize": 2025, "symbolStrokeColor": "black", "symbolStrokeWidth": 1.8, "clipHeight": 25, "labelOffset": 9}}
          }
        },
        {
          "width": 437, "height": 309,
          "data": {"name": "p4"},
          "mark": {"type": "point", "filled": true, "strokeWidth": 1, "size": 110, "opacity": 1},
          "encoding": {
            "x": {"field": "t", "type": "quantitative", "scale": {"domain": [0, 600], "nice": false}, "axis": {"values": [0, 150, 300, 450, 600], "title": "Time / Seconds"}},
            "y": {"field": "v", "type": "quantitative", "scale": {"domain": [0, 40], "nice": false}, "axis": {"values": [0, 10, 20, 30, 40], "title": "Intensity (A.U.)"}},
            "shape": {"field": "s", "type": "nominal",
              "scale": {"domain": ["Glass , 225º", "340º", "225º (Laser Intensity Corrected)"], "range": ["circle", "triangle-down", "square"]},
              "legend": {"legendX": 38, "legendY": 213, "symbolSize": 110, "symbolStrokeWidth": 1, "clipHeight": 26, "labelOffset": 24}},
            "fill": {"field": "s", "type": "nominal",
              "scale": {"domain": ["Glass , 225º", "340º", "225º (Laser Intensity Corrected)"], "range": ["black", "white", "black"]},
              "legend": {"legendX": 38, "legendY": 213, "symbolSize": 110, "symbolStrokeWidth": 1, "clipHeight": 26, "labelOffset": 24}},
            "stroke": {"field": "s", "type": "nominal",
              "scale": {"domain": ["Glass , 225º", "340º", "225º (Laser Intensity Corrected)"], "range": ["black", "black", "black"]},
              "legend": {"legendX": 38, "legendY": 213, "symbolSize": 110, "symbolStrokeWidth": 1, "clipHeight": 26, "labelOffset": 24}}
          }
        }
      ]
    }
  ]
}
